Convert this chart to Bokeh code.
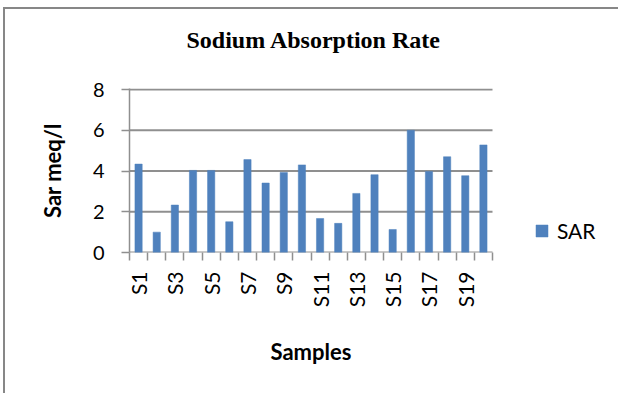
import math

from bokeh.plotting import figure
from bokeh.models import FixedTicker, Legend, LegendItem, Title, Range1d
from bokeh.embed import file_html
from bokeh.resources import INLINE

# Sodium absorption ratio per sample
samples = [f"S{i}" for i in range(1, 21)]
sar = [4.34, 1.0, 2.33, 4.03, 4.03, 1.51, 4.56, 3.41, 3.93, 4.30,
       1.67, 1.43, 2.90, 3.82, 1.13, 6.00, 3.98, 4.70, 3.77, 5.28]
y_ticks = [0, 2, 4, 6, 8]
shown_labels = samples[::2]          # every second category is labelled

positions = list(range(1, len(samples) + 1))
x_lo, x_hi = 0.5, len(samples) + 0.5

BAR = "#4F81BD"
GRID = "#8f8f8f"
TXT = "#000000"
SANS = "Lato"

# plot area is 363 px wide for the 20 categories; the frame continues to the
# right edge so the legend can sit beside the bars
W, H = 615, 386
LEFT, TOP, BOTTOM = 124, 79, 143
px_per_cat = 363 / len(samples)
x_end = x_lo + (W - LEFT) / px_per_cat

p = figure(width=W, height=H, output_backend="svg", toolbar_location=None,
           x_range=Range1d(x_lo, x_end), y_range=Range1d(0, 8.05),
           min_border_left=LEFT, min_border_right=0,
           min_border_top=TOP, min_border_bottom=BOTTOM)
p.outline_line_color = None
p.background_fill_color = "white"
p.border_fill_color = "white"
# chart border on the left and top of the chart area
p.styles = {"margin-left": "3px", "margin-top": "7px",
            "border-left": "2px solid #878787", "border-top": "2px solid #878787"}

# horizontal gridlines over the plot area (the one at 0 doubles as the axis line)
p.segment(x0=[x_lo] * len(y_ticks), x1=[x_hi] * len(y_ticks), y0=y_ticks, y1=y_ticks,
          line_color=GRID, line_width=2)

r = p.vbar(x=positions, top=sar, width=0.4, fill_color=BAR, line_color=BAR,
           line_width=0.5)

# y axis
p.yaxis.ticker = FixedTicker(ticks=y_ticks)
p.yaxis.axis_line_color = GRID
p.yaxis.axis_line_width = 1.5
p.yaxis.major_tick_line_color = GRID
p.yaxis.major_tick_line_width = 1.5
p.yaxis.major_tick_out = 8
p.yaxis.major_tick_in = 0
p.yaxis.minor_tick_line_color = None
p.yaxis.major_label_standoff = 17
p.yaxis.major_label_text_font = SANS
p.yaxis.major_label_text_font_size = "20px"
p.yaxis.major_label_text_color = TXT
p.yaxis.axis_label = "Sar meq/l"
p.yaxis.axis_label_text_font = SANS
p.yaxis.axis_label_text_font_style = "bold"
p.yaxis.axis_label_text_font_size = "22px"
p.yaxis.axis_label_text_color = TXT
p.yaxis.axis_label_standoff = 24

# x axis: tick marks between categories, labels on odd samples
label_pos = positions[::2]
p.xaxis.ticker = FixedTicker(ticks=label_pos,
                             minor_ticks=[x + 0.5 for x in range(0, len(samples) + 1)])
p.xaxis.major_label_overrides = {x: lab for x, lab in zip(label_pos, shown_labels)}
p.xaxis.major_label_orientation = math.pi / 2
p.xaxis.major_tick_line_color = None
p.xaxis.major_tick_out = 0
p.xaxis.major_tick_in = 0
p.xaxis.minor_tick_line_color = GRID
p.xaxis.minor_tick_line_width = 1.5
p.xaxis.minor_tick_out = 8
p.xaxis.minor_tick_in = 0
p.xaxis.axis_line_color = None
p.xaxis.major_label_standoff = 11
p.xaxis.major_label_text_font = SANS
p.xaxis.major_label_text_font_size = "21px"
p.xaxis.major_label_text_color = TXT
p.xgrid.grid_line_color = None
p.ygrid.grid_line_color = None

# axis title under the category labels, centred on the plot area
p.add_layout(Title(text="Samples", align="left", offset=141,
                   text_font=SANS, text_font_style="bold",
                   text_font_size="22px", text_color=TXT, standoff=51), "below")

# gap between the plot area and the chart title
p.add_layout(Title(text=" ", text_font_size="1px", standoff=33), "above")
# chart title
p.add_layout(Title(text="Sodium Absorption Rate", align="left", offset=57,
                   text_font="Liberation Serif", text_font_style="bold",
                   text_font_size="24px", text_color=TXT, standoff=0), "above")

legend = Legend(items=[LegendItem(label="SAR", renderers=[r])],
                location=(405, 9), padding=0, spacing=0, margin=0,
                glyph_width=15, glyph_height=15, label_standoff=8,
                label_text_font=SANS, label_text_font_size="21px",
                label_text_color=TXT, border_line_color=None,
                background_fill_color=None)
p.add_layout(legend)

open("out.html", "w").write(file_html(p, INLINE))
